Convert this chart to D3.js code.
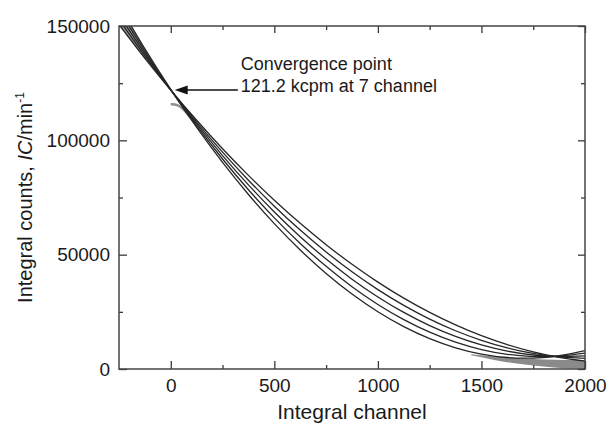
<!DOCTYPE html>
<html><head><meta charset="utf-8">
<script src="https://cdn.jsdelivr.net/npm/d3@7"></script>
<style>
html,body{margin:0;padding:0;background:#fff;}
svg{display:block;font-family:"Liberation Sans",Arial,Helvetica,sans-serif;}
</style></head>
<body>
<svg id="chart" width="607" height="429"></svg>
<script>
// ---------- data ----------
const channels = [-250,-125,0,125,250,375,500,625,750,875,1000,1125,1250,1375,1500,1625,1750,1875,2000];
const fit1 = [150665,135926,121959,108764,96341,84690,73810,63703,54367,45803,38011,30991,24743,19267,14562,10630,7469,5080,3463];
const fit2 = [152769,136943,122009,107970,94824,82573,71214,60750,51179,42503,34719,27830,21834,16733,12524,9210,6789,5263,4629];
const fit3 = [154820,137934,122059,107197,93347,80510,68685,57874,48073,39287,31512,24750,19000,14263,10538,7827,6127,5440,5765];
const fit4 = [156925,138950,122109,106403,91831,78393,66090,54921,44886,35986,28220,21589,16091,11729,8500,6407,5447,5622,6931];
const fit5 = [158976,139941,122158,105630,90353,76331,63560,52044,41780,32770,25013,18509,13257,9260,6515,5024,4785,5800,8067];
const fits = [fit1,fit2,fit3,fit4,fit5];

// measured (grey) data near channel 0
const lowChannels = [0,20,40,60,80,100,120];
const lowCounts   = [115800,115700,115000,113600,111700,109600,107400];
// measured (grey) data band at high channels
const tailChannels = [1450,1550,1650,1750,1850,1950,2000];
const tailUpper    = [6500,5600,4900,4400,4100,3900,3800];
const tailLower    = [6000,4200,2600,1500,700,200,0];

const xMajor = [0,500,1000,1500,2000];
const xMinor = [250,750,1250,1750];
const yMajor = [0,50000,100000,150000];
const yMinor = [25000,75000,125000];

const annotation = {tip:[19,122000], tail:[324,122000], textX:338, line1Y:130700, line2Y:121050,
  line1:"Convergence point", line2:"121.2 kcpm at 7 channel"};

// ---------- layout ----------
const L=119, R=585, T=26, B=369;
const svg = d3.select("#chart");
const x = d3.scaleLinear().domain([-250,2000]).range([L,R]);
const y = d3.scaleLinear().domain([0,150000]).range([B,T]);

svg.append("defs").append("clipPath").attr("id","clip")
  .append("rect").attr("x",L).attr("y",T).attr("width",R-L).attr("height",B-T);

const plot = svg.append("g").attr("clip-path","url(#clip)");

const line = d3.line().x((d,i)=>x(channels[i])).y(d=>y(d)).curve(d3.curveNatural);

// grey band on extrapolated part (between outermost fits)
const band = channels.map((c,i)=>[c,fit1[i],fit5[i]]).filter(p=>p[0]<=0);
plot.append("path").datum(band)
  .attr("d", d3.area().x(p=>x(p[0])).y0(p=>y(p[1])).y1(p=>y(p[2])).curve(d3.curveNatural))
  .attr("fill","#9a9a9a").attr("stroke","#9a9a9a").attr("stroke-width",1.5);

// grey measured data at high channels
plot.append("path").datum(tailChannels.map((c,i)=>[c,tailUpper[i],tailLower[i]]))
  .attr("d", d3.area().x(p=>x(p[0])).y0(p=>y(p[2])).y1(p=>y(p[1])).curve(d3.curveMonotoneX))
  .attr("fill","#8a8a8a");

// grey measured data near 0
plot.append("path").datum(lowChannels.map((c,i)=>[c,lowCounts[i]]))
  .attr("d", d3.line().x(p=>x(p[0])).y(p=>y(p[1])).curve(d3.curveNatural))
  .attr("fill","none").attr("stroke","#8f8f8f").attr("stroke-width",2.5);

// fitted curves
fits.forEach(f=>{
  plot.append("path").datum(f).attr("d",line)
    .attr("fill","none").attr("stroke","#262626").attr("stroke-width",1.3);
});

// ---------- axes ----------
function styleAxis(g){
  g.select(".domain").remove();
  g.selectAll(".tick line").attr("stroke","#3a3a3a").attr("stroke-width",1.3);
  g.selectAll(".tick text").attr("fill","#1a1a1a").style("font-size","19px");
}
svg.append("g").attr("transform",`translate(0,${B})`)
  .call(d3.axisBottom(x).tickValues(xMajor).tickSize(-8).tickPadding(10).tickFormat(d3.format("d"))).call(styleAxis);
svg.append("g").attr("transform",`translate(0,${B})`)
  .call(d3.axisBottom(x).tickValues(xMinor).tickSize(-4).tickFormat("")).call(styleAxis);
svg.append("g").attr("transform",`translate(0,${T})`)
  .call(d3.axisTop(x).tickValues(xMajor).tickSize(-7).tickFormat("")).call(styleAxis);
svg.append("g").attr("transform",`translate(0,${T})`)
  .call(d3.axisTop(x).tickValues(xMinor).tickSize(-4).tickFormat("")).call(styleAxis);
svg.append("g").attr("transform",`translate(${L},0)`)
  .call(d3.axisLeft(y).tickValues(yMajor).tickSize(-8).tickPadding(9).tickFormat(d3.format("d"))).call(styleAxis);
svg.append("g").attr("transform",`translate(${L},0)`)
  .call(d3.axisLeft(y).tickValues(yMinor).tickSize(-4).tickFormat("")).call(styleAxis);
svg.append("g").attr("transform",`translate(${R},0)`)
  .call(d3.axisRight(y).tickValues(yMajor).tickSize(-7).tickFormat("")).call(styleAxis);
svg.append("g").attr("transform",`translate(${R},0)`)
  .call(d3.axisRight(y).tickValues(yMinor).tickSize(-4).tickFormat("")).call(styleAxis);

svg.append("rect").attr("x",L).attr("y",T).attr("width",R-L).attr("height",B-T)
  .attr("fill","none").attr("stroke","#444").attr("stroke-width",1.5);

// ---------- titles ----------
svg.append("text").attr("x",(L+R)/2).attr("y",419).attr("text-anchor","middle")
  .style("font-size","21px").attr("fill","#1a1a1a").text("Integral channel");

const yt = svg.append("text").attr("transform",`translate(32,${(T+B)/2}) rotate(-90)`)
  .attr("text-anchor","middle").style("font-size","20px").attr("fill","#1a1a1a");
yt.append("tspan").text("Integral counts,  ");
yt.append("tspan").style("font-style","italic").text("IC");
yt.append("tspan").text("/min");
yt.append("tspan").attr("dy",-8).style("font-size","12px").text("-1");

// ---------- annotation ----------
svg.append("line").attr("x1",x(annotation.tail[0])).attr("y1",y(annotation.tail[1]))
  .attr("x2",x(annotation.tip[0])+10).attr("y2",y(annotation.tip[1]))
  .attr("stroke","#111").attr("stroke-width",1.6);
const tx=x(annotation.tip[0]), ty=y(annotation.tip[1]);
svg.append("path").attr("d",`M${tx},${ty} L${tx+13},${ty-4.5} L${tx+13},${ty+4.5} Z`).attr("fill","#111");
svg.append("text").attr("x",x(annotation.textX)).attr("y",y(annotation.line1Y))
  .style("font-size","18px").attr("fill","#1a1a1a").text(annotation.line1);
svg.append("text").attr("x",x(annotation.textX)).attr("y",y(annotation.line2Y))
  .style("font-size","18px").attr("fill","#1a1a1a").text(annotation.line2);
</script>
</body></html>
